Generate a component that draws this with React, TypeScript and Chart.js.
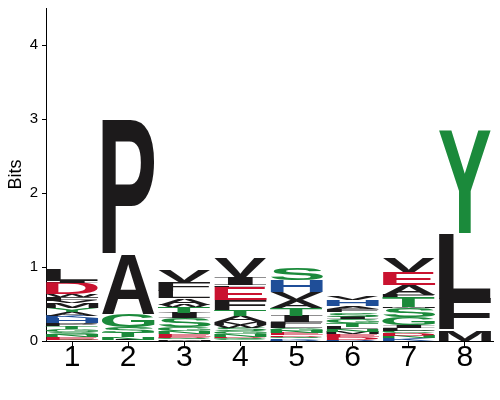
import React, { useEffect, useRef } from "react";
import { Chart, registerables } from "chart.js";

Chart.register(...registerables);

// Sequence positions and tick labels
const positions = [1, 2, 3, 4, 5, 6, 7, 8];
const xTickLabels = ["1", "2", "3", "4", "5", "6", "7", "8"];
const yTickValues = [0, 1, 2, 3, 4];

// Letters per position, bottom to top, with their heights in bits
const pos1Letters = ["Q", "E", "N", "S", "G", "T", "P", "H", "K", "A", "Y", "M", "V", "F", "W", "D", "I", "L"];
const pos1Bits = [0.02, 0.03, 0.03, 0.04, 0.04, 0.04, 0.04, 0.07, 0.03, 0.05, 0.05, 0.07, 0.03, 0.05, 0.04, 0.15, 0.03, 0.15];

const pos2Letters = ["I", "N", "T", "S", "G", "A", "P"];
const pos2Bits = [0.02, 0.03, 0.06, 0.08, 0.17, 0.8, 1.83];

const pos3Letters = ["M", "Q", "D", "E", "N", "G", "S", "I", "T", "W", "A", "L", "F", "V"];
const pos3Bits = [0.02, 0.02, 0.02, 0.03, 0.04, 0.06, 0.12, 0.07, 0.08, 0.03, 0.09, 0.1, 0.12, 0.16];

const pos4Letters = ["C", "Q", "D", "N", "G", "S", "W", "M", "A", "T", "F", "E", "L", "I", "V"];
const pos4Bits = [0.02, 0.02, 0.02, 0.03, 0.04, 0.05, 0.04, 0.04, 0.08, 0.08, 0.14, 0.17, 0.02, 0.12, 0.26];

const pos5Letters = ["R", "K", "Q", "D", "E", "N", "G", "L", "F", "I", "T", "A", "V", "H", "S"];
const pos5Bits = [0.02, 0.02, 0.02, 0.02, 0.03, 0.03, 0.03, 0.04, 0.04, 0.09, 0.11, 0.1, 0.11, 0.16, 0.16];

const pos6Letters = ["R", "D", "E", "M", "N", "L", "T", "G", "I", "S", "F", "A", "H", "V"];
const pos6Bits = [0.02, 0.03, 0.04, 0.03, 0.04, 0.03, 0.05, 0.05, 0.04, 0.06, 0.04, 0.04, 0.08, 0.05];

const pos7Letters = ["K", "N", "D", "C", "L", "I", "G", "S", "M", "T", "F", "A", "E", "V"];
const pos7Bits = [0.04, 0.03, 0.04, 0.03, 0.04, 0.04, 0.1, 0.12, 0.02, 0.13, 0.03, 0.14, 0.17, 0.19];

const pos8Letters = ["M", "F", "L", "Y"];
const pos8Bits = [0.15, 0.42, 0.89, 1.39];

// Chemistry colour scheme
const hydrophobicLetters = "AVLIPWFM";
const polarLetters = "GSTYCQN";
const basicLetters = "KRH";
const acidicLetters = "DE";
const hydrophobicColor = "#1c1a1b";
const polarColor = "#1b8a3b";
const basicColor = "#1f4e98";
const acidicColor = "#c9122f";

function letterColor(letter: string): string {
  if (polarLetters.includes(letter)) return polarColor;
  if (basicLetters.includes(letter)) return basicColor;
  if (acidicLetters.includes(letter)) return acidicColor;
  if (hydrophobicLetters.includes(letter)) return hydrophobicColor;
  return hydrophobicColor;
}

const columns: [string[], number[]][] = [
  [pos1Letters, pos1Bits],
  [pos2Letters, pos2Bits],
  [pos3Letters, pos3Bits],
  [pos4Letters, pos4Bits],
  [pos5Letters, pos5Bits],
  [pos6Letters, pos6Bits],
  [pos7Letters, pos7Bits],
  [pos8Letters, pos8Bits],
];

function buildDatasets() {
  const depth = Math.max(...columns.map((c) => c[0].length));
  const datasets: any[] = [];
  for (let k = 0; k < depth; k++) {
    const data: any[] = [];
    columns.forEach(([letters, bits], i) => {
      if (k < letters.length) {
        let lo = 0;
        for (let j = 0; j < k; j++) lo += bits[j];
        data.push({ x: positions[i], y: [lo, lo + bits[k]], letter: letters[k] });
      }
    });
    datasets.push({
      data,
      backgroundColor: "rgba(0,0,0,0)",
      borderWidth: 0,
      grouped: false,
      barPercentage: 0.94,
      categoryPercentage: 1,
    });
  }
  return datasets;
}

const SANS = '"Liberation Sans", Arial, sans-serif';
const LETTER_FONT = 'bold 100px "Liberation Sans", Arial, sans-serif';
const SERIF_LETTER_FONT = 'bold 100px "Liberation Serif", serif';

const logoLettersPlugin = {
  id: "logoLetters",
  afterDatasetsDraw(chart: any) {
    const ctx = chart.ctx as CanvasRenderingContext2D;
    chart.data.datasets.forEach((ds: any, di: number) => {
      const meta = chart.getDatasetMeta(di);
      meta.data.forEach((el: any, i: number) => {
        const item = ds.data[i];
        if (!item) return;
        const top = Math.min(el.y, el.base);
        const bottom = Math.max(el.y, el.base);
        const h = bottom - top;
        if (h <= 0.2) return;
        const w = el.width;
        const left = el.x - w / 2;
        ctx.save();
        ctx.font = item.letter === "I" ? SERIF_LETTER_FONT : LETTER_FONT;
        ctx.textAlign = "left";
        ctx.textBaseline = "alphabetic";
        const m = ctx.measureText(item.letter);
        const gw = m.actualBoundingBoxLeft + m.actualBoundingBoxRight;
        const gh = m.actualBoundingBoxAscent + m.actualBoundingBoxDescent;
        ctx.translate(left, bottom);
        ctx.scale(w / gw, h / gh);
        ctx.fillStyle = letterColor(item.letter);
        ctx.fillText(item.letter, m.actualBoundingBoxLeft, -m.actualBoundingBoxDescent);
        ctx.restore();
      });
    });
  },
};

export default function App() {
  const canvasRef = useRef<HTMLCanvasElement | null>(null);

  useEffect(() => {
    if (!canvasRef.current) return;
    const chart = new Chart(canvasRef.current, {
      type: "bar",
      data: { datasets: buildDatasets() },
      plugins: [logoLettersPlugin],
      options: {
        responsive: false,
        animation: false,
        layout: { padding: { left: 0, right: 7, top: 8, bottom: 0 } },
        plugins: { legend: { display: false }, tooltip: { enabled: false } },
        scales: {
          x: {
            type: "linear",
            min: 0.535,
            max: 8.5,
            offset: false,
            grid: { display: true, drawOnChartArea: false, drawTicks: true, tickLength: 5, color: "#000", offset: false },
            border: { display: true, color: "#000", width: 1 },
            ticks: {
              stepSize: 1,
              includeBounds: false,
              autoSkip: false,
              maxRotation: 0,
              color: "#000",
              padding: -6,
              font: { size: 30, family: SANS },
              callback: (v: any) => xTickLabels[positions.indexOf(Number(v))] ?? "",
            },
            afterFit: (s: any) => {
              s.height = 59;
              s.paddingLeft = 0;
              s.paddingRight = 0;
            },
          },
          y: {
            type: "linear",
            min: 0,
            max: 4.5,
            grid: { display: true, drawOnChartArea: false, drawTicks: true, tickLength: 4, color: "#000" },
            border: { display: true, color: "#000", width: 1 },
            ticks: {
              stepSize: 1,
              includeBounds: false,
              color: "#000",
              padding: 4,
              font: { size: 15, family: SANS },
              callback: (v: any) => (yTickValues.includes(Number(v)) ? String(v) : ""),
            },
            title: {
              display: true,
              text: "Bits",
              color: "#000",
              font: { size: 18, family: SANS },
              padding: { top: 5, bottom: 0 },
            },
            afterFit: (s: any) => {
              s.width = 46;
              s.paddingTop = 0;
              s.paddingBottom = 0;
            },
          },
        },
      },
    } as any);
    return () => chart.destroy();
  }, []);

  return (
    <div style={{ position: "absolute", left: 0, top: 0, width: 500, height: 400, background: "#fff" }}>
      <canvas ref={canvasRef} width={500} height={400} />
    </div>
  );
}
